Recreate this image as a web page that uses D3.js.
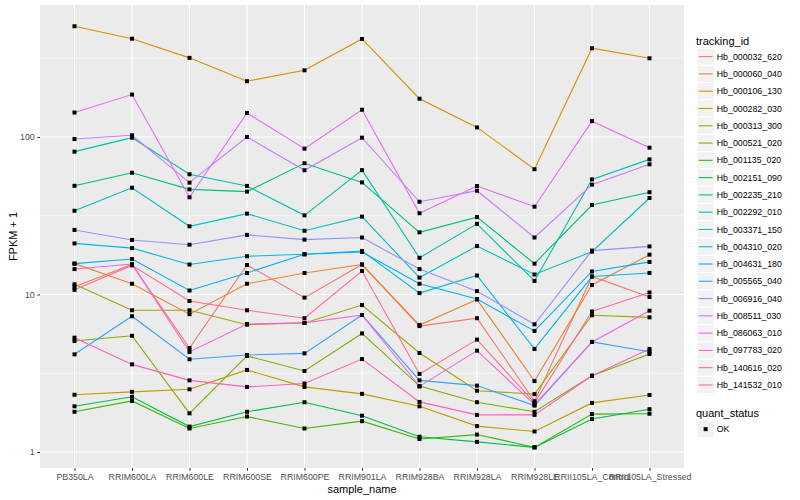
<!DOCTYPE html>
<html>
<head>
<meta charset="utf-8">
<script src="https://cdn.jsdelivr.net/npm/d3@7"></script>
<style>
  body { margin: 0; background: #fff; }
  text { font-family: "Liberation Sans", Arial, sans-serif; }
</style>
</head>
<body>
<div id="chart"></div>
<script>
// sample names on the x axis
const samples = ["PB350LA", "RRIM600LA", "RRIM600LE", "RRIM600SE", "RRIM600PE", "RRIM901LA",
  "RRIM928BA", "RRIM928LA", "RRIM928LE", "RRII105LA_Control", "RRII105LA_Stressed"];

const trackingIds = ["Hb_000032_620", "Hb_000060_040", "Hb_000106_130", "Hb_000282_030", "Hb_000313_300",
  "Hb_000521_020", "Hb_001135_020", "Hb_002151_090", "Hb_002235_210", "Hb_002292_010",
  "Hb_003371_150", "Hb_004310_020", "Hb_004631_180", "Hb_005565_040", "Hb_006916_040",
  "Hb_008511_030", "Hb_086063_010", "Hb_097783_020", "Hb_140616_020", "Hb_141532_010"];

// FPKM + 1, one row per tracking_id, one value per sample
const fpkm = [
  [11.2, 15.5, 4.57, 15.4, 9.55, 15.5, 6.3, 7.07, 2.1, 13, 9.64],
  [15.7, 11.7, 7.5, 11.7, 13.7, 15.5, 6.4, 9.3, 2.82, 11.5, 17.9],
  [505, 421, 318, 226, 265, 419, 175, 115, 62.4, 366, 316],
  [2.31, 2.41, 2.5, 3.32, 2.59, 2.34, 1.95, 1.46, 1.35, 2.05, 2.3],
  [11.6, 7.94, 7.94, 6.43, 6.6, 8.57, 4.25, 2.45, 2.33, 7.38, 7.16],
  [5.07, 5.47, 1.76, 4.07, 3.27, 5.66, 2.62, 2.07, 1.8, 3.05, 4.19],
  [1.80, 2.11, 1.41, 1.68, 1.41, 1.57, 1.21, 1.29, 1.07, 1.74, 1.75],
  [1.95, 2.24, 1.45, 1.80, 2.07, 1.70, 1.25, 1.16, 1.07, 1.62, 1.87],
  [49, 59.3, 46.5, 45, 68.1, 51.5, 24.8, 31, 15.7, 37, 44.6],
  [80.7, 99, 58, 48.9, 31.8, 61.6, 17.1, 28.1, 12.2, 53.8, 72.1],
  [34, 47.6, 27.1, 32.6, 25.4, 31.2, 12.8, 20.3, 13.4, 18.7, 41],
  [21.1, 19.7, 15.5, 17.5, 18, 18.9, 10.2, 13.2, 4.51, 13, 13.7],
  [15.7, 16.8, 10.6, 13.7, 18, 18.6, 11.7, 9.35, 5.87, 14, 16.1],
  [4.17, 7.28, 3.88, 4.13, 4.23, 7.41, 2.85, 2.64, 1.97, 5.0, 4.33],
  [25.7, 22.2, 20.7, 23.9, 22.3, 23, 14.5, 10.5, 6.47, 19, 20.2],
  [97, 102.5, 51.3, 100, 61.5, 99, 38.8, 45.6, 23, 49.8, 67.1],
  [143, 186, 41.4, 142, 84.3, 149, 32.8, 48.8, 36.1, 126, 85.5],
  [14.5, 15.6, 4.32, 6.5, 6.6, 7.41, 2.61, 4.4, 2.0, 5.0, 7.89],
  [5.32, 3.6, 2.85, 2.59, 2.72, 3.89, 2.08, 1.72, 1.72, 3.05, 4.51],
  [10.7, 15.3, 9.1, 7.94, 7.07, 14.1, 3.13, 5.17, 2.05, 7.8, 10.3]
];

const yTicks = [1, 10, 100];
const yMinor = [Math.sqrt(10), Math.sqrt(1000), Math.sqrt(100000)];
const quantStatus = ["OK"];

// ggplot default hue palette for 20 levels
const palette = ["#F8766D", "#EA8331", "#D89000", "#C09B00", "#A3A500", "#7CAE00", "#39B600", "#00BB4E",
  "#00BF7D", "#00C1A3", "#00BFC4", "#00BAE0", "#00B0F6", "#35A2FF", "#9590FF", "#C77CFF",
  "#E76BF3", "#FA62DB", "#FF62BC", "#FF6C91"];

const width = 800;
const height = 500;
const margin = { top: 5, right: 116, bottom: 32, left: 40 };

const svg = d3.select("#chart")
  .append("svg")
  .attr("width", width)
  .attr("height", height);

const x = d3.scalePoint()
  .domain(samples)
  .range([margin.left, width - margin.right])
  .padding(0.6);

const y = d3.scaleLog()
  .domain([Math.pow(10, -0.1016), Math.pow(10, 2.838)])
  .range([height - margin.bottom, margin.top]);

const color = d3.scaleOrdinal().domain(trackingIds).range(palette);

// panel background
svg.append("rect")
  .attr("x", margin.left)
  .attr("y", margin.top)
  .attr("width", width - margin.right - margin.left)
  .attr("height", height - margin.bottom - margin.top)
  .attr("fill", "#EBEBEB");

// grid lines
svg.append("g")
  .selectAll("line")
  .data(yMinor)
  .join("line")
  .attr("x1", margin.left)
  .attr("x2", width - margin.right)
  .attr("y1", d => y(d))
  .attr("y2", d => y(d))
  .attr("stroke", "#fff")
  .attr("stroke-width", 0.55);

svg.append("g")
  .selectAll("line")
  .data(yTicks)
  .join("line")
  .attr("x1", margin.left)
  .attr("x2", width - margin.right)
  .attr("y1", d => y(d))
  .attr("y2", d => y(d))
  .attr("stroke", "#fff")
  .attr("stroke-width", 1.1);

svg.append("g")
  .selectAll("line")
  .data(samples)
  .join("line")
  .attr("x1", d => x(d))
  .attr("x2", d => x(d))
  .attr("y1", margin.top)
  .attr("y2", height - margin.bottom)
  .attr("stroke", "#fff")
  .attr("stroke-width", 1.1);

// series
const series = trackingIds.map((id, i) => ({ id: id, values: fpkm[i] }));

const line = d3.line()
  .x((d, i) => x(samples[i]))
  .y(d => y(d));

svg.append("g")
  .selectAll("path")
  .data(series)
  .join("path")
  .attr("fill", "none")
  .attr("stroke", d => color(d.id))
  .attr("stroke-width", 1.1)
  .attr("d", d => line(d.values));

const points = series.flatMap(s => s.values.map((v, i) => ({ sample: samples[i], v: v })));
svg.append("g")
  .selectAll("rect")
  .data(points)
  .join("rect")
  .attr("x", d => x(d.sample) - 2)
  .attr("y", d => y(d.v) - 2)
  .attr("width", 4)
  .attr("height", 4)
  .attr("fill", "#000");

// axes
const xAxis = svg.append("g")
  .attr("transform", `translate(0, ${height - margin.bottom})`)
  .call(d3.axisBottom(x).tickSize(2.75).tickPadding(3));

const yAxis = svg.append("g")
  .attr("transform", `translate(${margin.left}, 0)`)
  .call(d3.axisLeft(y).tickValues(yTicks).tickFormat(d3.format("d")).tickSize(2.75).tickPadding(2.5));

[xAxis, yAxis].forEach(a => {
  a.select(".domain").remove();
  a.selectAll(".tick line").attr("stroke", "#333");
  a.selectAll(".tick text")
    .attr("fill", "#4D4D4D")
    .style("font-size", "8.8px")
    .style("font-family", "\"Liberation Sans\", Arial, sans-serif");
});

// axis titles
svg.append("text")
  .attr("x", (margin.left + width - margin.right) / 2)
  .attr("y", 492.5)
  .attr("text-anchor", "middle")
  .style("font-size", "11px")
  .text("sample_name");

svg.append("text")
  .attr("transform", "rotate(-90)")
  .attr("x", -(margin.top + height - margin.bottom) / 2)
  .attr("y", 17)
  .attr("text-anchor", "middle")
  .style("font-size", "11px")
  .text("FPKM + 1");

// legend: tracking_id
const legX = 697;
const keySize = 17.28;
const leg = svg.append("g");

leg.append("text")
  .attr("x", legX - 1)
  .attr("y", 44.5)
  .style("font-size", "11px")
  .text("tracking_id");

const items = leg.selectAll("g.item")
  .data(trackingIds)
  .join("g")
  .attr("class", "item")
  .attr("transform", (d, i) => `translate(${legX}, ${48 + i * keySize})`);

items.append("rect")
  .attr("width", keySize)
  .attr("height", keySize)
  .attr("fill", "#F2F2F2")
  .attr("stroke", "#fff");

items.append("line")
  .attr("x1", 1.7)
  .attr("x2", keySize - 1.7)
  .attr("y1", keySize / 2)
  .attr("y2", keySize / 2)
  .attr("stroke", d => color(d))
  .attr("stroke-width", 1.1);

items.append("text")
  .attr("x", keySize + 2.5)
  .attr("y", keySize / 2 + 3.1)
  .style("font-size", "8.8px")
  .text(d => d);

// legend: quant_status
leg.append("text")
  .attr("x", legX - 1)
  .attr("y", 416.5)
  .style("font-size", "11px")
  .text("quant_status");

const q = leg.selectAll("g.q")
  .data(quantStatus)
  .join("g")
  .attr("class", "q")
  .attr("transform", `translate(${legX}, 420.5)`);

q.append("rect")
  .attr("width", keySize)
  .attr("height", keySize)
  .attr("fill", "#F2F2F2")
  .attr("stroke", "#fff");

q.append("rect")
  .attr("x", keySize / 2 - 2)
  .attr("y", keySize / 2 - 2)
  .attr("width", 4)
  .attr("height", 4)
  .attr("fill", "#000");

q.append("text")
  .attr("x", keySize + 2.5)
  .attr("y", keySize / 2 + 3.1)
  .style("font-size", "8.8px")
  .text(d => d);
</script>
</body>
</html>
